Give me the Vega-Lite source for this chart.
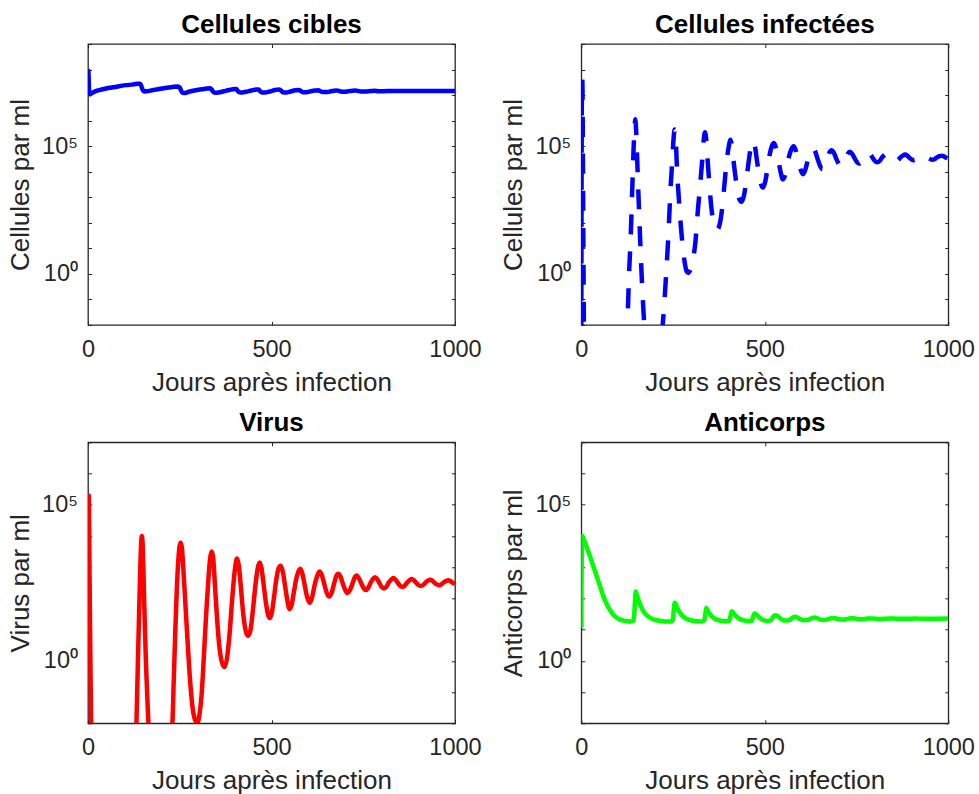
{
  "$schema": "https://vega.github.io/schema/vega-lite/v6.json",
  "padding": {"left": 6, "top": 11, "right": 0, "bottom": 0},
  "config": {
    "font": "Liberation Sans",
    "view": {"stroke": "#262626", "strokeWidth": 1.3},
    "axis": {
      "domain": false,
      "grid": false,
      "tickColor": "#262626",
      "tickSize": -3.5,
      "tickWidth": 1,
      "labelFont": "Liberation Sans",
      "labelFontSize": 23.5,
      "labelColor": "#262626",
      "labelFlush": false,
      "labelOverlap": false,
      "titleFont": "Liberation Sans",
      "titleFontSize": 26,
      "titleFontWeight": "normal",
      "titleColor": "#262626"
    },
    "axisBottom": {"labelPadding": 16, "titlePadding": 8, "format": "d"},
    "axisLeft": {"labelPadding": 14, "titlePadding": 8},
    "title": {"font": "Liberation Sans", "fontSize": 26, "fontWeight": "bold", "color": "#000000", "offset": -6, "baseline": "alphabetic"}
  },
  "datasets": {
    "cibles": [
      {"t":0,"v":9.333e7},{"t":0.8,"v":8.913e7},{"t":1.6,"v":5.623e7},{"t":2.4,"v":2.239e7},{"t":3.2,"v":1.259e7},{"t":4.5,"v":1.072e7},{"t":8,"v":1.122e7},{"t":15,"v":1.288e7},{"t":25,"v":1.479e7},{"t":35,"v":1.622e7},{"t":50,"v":1.82e7},{"t":62,"v":1.95e7},{"t":75,"v":2.089e7},{"t":90,"v":2.291e7},{"t":105,"v":2.455e7},{"t":120,"v":2.57e7},{"t":135,"v":2.754e7},{"t":141,"v":2.754e7},{"t":144,"v":2.512e7},{"t":147,"v":1.905e7},{"t":150,"v":1.514e7},{"t":154,"v":1.38e7},{"t":160,"v":1.413e7},{"t":175,"v":1.549e7},{"t":190,"v":1.698e7},{"t":210,"v":1.905e7},{"t":230,"v":2.089e7},{"t":245,"v":2.188e7},{"t":250,"v":1.995e7},{"t":253,"v":1.585e7},{"t":257,"v":1.259e7},{"t":262,"v":1.202e7},{"t":275,"v":1.349e7},{"t":290,"v":1.514e7},{"t":305,"v":1.66e7},{"t":320,"v":1.778e7},{"t":333,"v":1.862e7},{"t":337,"v":1.66e7},{"t":341,"v":1.349e7},{"t":346,"v":1.23e7},{"t":355,"v":1.259e7},{"t":370,"v":1.413e7},{"t":385,"v":1.585e7},{"t":400,"v":1.738e7},{"t":404,"v":1.738e7},{"t":407,"v":1.514e7},{"t":411,"v":1.318e7},{"t":416,"v":1.259e7},{"t":430,"v":1.349e7},{"t":445,"v":1.514e7},{"t":460,"v":1.66e7},{"t":465,"v":1.66e7},{"t":469,"v":1.413e7},{"t":474,"v":1.259e7},{"t":482,"v":1.259e7},{"t":495,"v":1.38e7},{"t":510,"v":1.585e7},{"t":520,"v":1.66e7},{"t":526,"v":1.514e7},{"t":531,"v":1.288e7},{"t":540,"v":1.259e7},{"t":552,"v":1.38e7},{"t":565,"v":1.549e7},{"t":575,"v":1.585e7},{"t":580,"v":1.445e7},{"t":586,"v":1.288e7},{"t":595,"v":1.288e7},{"t":607,"v":1.413e7},{"t":620,"v":1.514e7},{"t":628,"v":1.549e7},{"t":633,"v":1.413e7},{"t":640,"v":1.318e7},{"t":650,"v":1.318e7},{"t":662,"v":1.413e7},{"t":675,"v":1.514e7},{"t":682,"v":1.496e7},{"t":688,"v":1.38e7},{"t":698,"v":1.349e7},{"t":712,"v":1.429e7},{"t":728,"v":1.496e7},{"t":735,"v":1.462e7},{"t":742,"v":1.396e7},{"t":755,"v":1.396e7},{"t":770,"v":1.445e7},{"t":782,"v":1.479e7},{"t":790,"v":1.429e7},{"t":805,"v":1.413e7},{"t":825,"v":1.445e7},{"t":845,"v":1.462e7},{"t":870,"v":1.445e7},{"t":900,"v":1.445e7},{"t":950,"v":1.445e7},{"t":1000,"v":1.445e7}
    ],
    "infectees": [
      {"t":0,"v":0.00316},{"t":0.5,"v":100},{"t":1.2,"v":1e6},{"t":2,"v":3.162e7},{"t":2.6,"v":4.169e7},{"t":3.3,"v":1.585e7},{"t":4.2,"v":1e5},{"t":5.5,"v":31.62},{"t":7,"v":0.01585},{"t":9,"v":1e-4},{"t":30,"v":1e-8},{"t":80,"v":1e-9},{"t":110,"v":1e-6},{"t":120,"v":6.31e-4},{"t":125.5,"v":0.01},{"t":130,"v":0.891},{"t":135,"v":39.81},{"t":139,"v":2512},{"t":142.5,"v":7.943e4},{"t":145,"v":5.012e5},{"t":147,"v":1.122e6},{"t":149.5,"v":3.981e5},{"t":152.5,"v":2.512e4},{"t":156,"v":1000},{"t":160.5,"v":19.95},{"t":165.5,"v":0.398},{"t":171,"v":0.01413},{"t":177,"v":0.001},{"t":195,"v":1.585e-4},{"t":212,"v":0.001},{"t":219,"v":0.00398},{"t":224,"v":0.0251},{"t":231,"v":0.891},{"t":237.5,"v":37.15},{"t":242.5,"v":1380},{"t":248.5,"v":3.981e4},{"t":252,"v":2.512e5},{"t":254.5,"v":4.467e5},{"t":257,"v":1.995e5},{"t":261.5,"v":7943},{"t":266,"v":794.3},{"t":270,"v":125.9},{"t":276,"v":12.59},{"t":281.5,"v":2.951},{"t":287,"v":1.259},{"t":292,"v":1.122},{"t":298,"v":1.585},{"t":304,"v":3.548},{"t":310.6,"v":15.85},{"t":318,"v":354.8},{"t":324,"v":3162},{"t":329.7,"v":3.162e4},{"t":334,"v":1.995e5},{"t":337,"v":3.548e5},{"t":340,"v":1.995e5},{"t":344,"v":3.162e4},{"t":348,"v":5012},{"t":353,"v":631},{"t":359,"v":125.9},{"t":365,"v":63.1},{"t":371,"v":56.23},{"t":378,"v":100},{"t":384,"v":398.1},{"t":390,"v":3162},{"t":396,"v":2.512e4},{"t":402,"v":1e5},{"t":406,"v":1.778e5},{"t":410,"v":1.122e5},{"t":415,"v":2.512e4},{"t":421,"v":5012},{"t":428,"v":1122},{"t":436,"v":660.7},{"t":443,"v":1122},{"t":450,"v":5012},{"t":457,"v":3.162e4},{"t":463,"v":1.122e5},{"t":468,"v":1.585e5},{"t":473,"v":1e5},{"t":479,"v":2.512e4},{"t":485,"v":7079},{"t":490,"v":3162},{"t":495,"v":2399},{"t":501,"v":3981},{"t":507,"v":1.259e4},{"t":513,"v":4.467e4},{"t":519,"v":1e5},{"t":525,"v":1.318e5},{"t":531,"v":7.943e4},{"t":537,"v":2.818e4},{"t":543,"v":1e4},{"t":549,"v":5012},{"t":555,"v":7079},{"t":561,"v":1.778e4},{"t":567,"v":4.467e4},{"t":573,"v":7.943e4},{"t":578.5,"v":1e5},{"t":584,"v":7.079e4},{"t":590,"v":3.162e4},{"t":597,"v":1.259e4},{"t":604,"v":7943},{"t":611,"v":1.259e4},{"t":617,"v":2.818e4},{"t":624,"v":5.623e4},{"t":631,"v":7.943e4},{"t":637,"v":6.31e4},{"t":644,"v":3.162e4},{"t":650,"v":1.778e4},{"t":657,"v":1.259e4},{"t":663,"v":1.585e4},{"t":670,"v":3.162e4},{"t":676,"v":5.623e4},{"t":682,"v":6.918e4},{"t":688,"v":5.623e4},{"t":695,"v":3.162e4},{"t":701,"v":2.089e4},{"t":707,"v":1.66e4},{"t":713,"v":1.995e4},{"t":720,"v":3.162e4},{"t":726,"v":5.012e4},{"t":732,"v":6.026e4},{"t":738,"v":5.012e4},{"t":745,"v":3.311e4},{"t":751,"v":2.399e4},{"t":757,"v":2.089e4},{"t":763,"v":2.399e4},{"t":770,"v":3.548e4},{"t":776,"v":4.677e4},{"t":782,"v":5.37e4},{"t":788,"v":4.677e4},{"t":794,"v":3.467e4},{"t":800,"v":2.63e4},{"t":806,"v":2.344e4},{"t":813,"v":2.63e4},{"t":819,"v":3.548e4},{"t":826,"v":4.467e4},{"t":832,"v":5.012e4},{"t":838,"v":4.467e4},{"t":844,"v":3.548e4},{"t":850,"v":2.884e4},{"t":857,"v":2.63e4},{"t":863,"v":2.884e4},{"t":869,"v":3.548e4},{"t":876,"v":4.266e4},{"t":882,"v":4.677e4},{"t":888,"v":4.266e4},{"t":894,"v":3.548e4},{"t":900,"v":3.02e4},{"t":907,"v":2.818e4},{"t":913,"v":3.02e4},{"t":919,"v":3.548e4},{"t":926,"v":4.169e4},{"t":932,"v":4.467e4},{"t":938,"v":4.169e4},{"t":944,"v":3.548e4},{"t":950,"v":3.162e4},{"t":957,"v":2.951e4},{"t":963,"v":3.162e4},{"t":969,"v":3.631e4},{"t":976,"v":4.074e4},{"t":982,"v":4.266e4},{"t":988,"v":3.981e4},{"t":994,"v":3.548e4},{"t":1000,"v":3.236e4}
    ],
    "virus": [
      {"t":0,"v":10},{"t":0.6,"v":1585},{"t":1.3,"v":1e5},{"t":2,"v":1.995e5},{"t":2.8,"v":6.31e4},{"t":4,"v":1000},{"t":6,"v":3.981},{"t":8.5,"v":0.01},{"t":12,"v":1e-4},{"t":40,"v":1e-9},{"t":80,"v":1e-10},{"t":110,"v":1e-7},{"t":125,"v":1e-4},{"t":132,"v":0.01},{"t":136,"v":1},{"t":139,"v":25.12},{"t":142,"v":631},{"t":145,"v":6310},{"t":147,"v":1e4},{"t":149,"v":5012},{"t":151,"v":794},{"t":154,"v":31.62},{"t":158,"v":0.794},{"t":162,"v":0.0501},{"t":165,"v":0.00794},{"t":172,"v":3.16e-4},{"t":190,"v":1e-5},{"t":210,"v":6.31e-5},{"t":222,"v":0.001},{"t":230,"v":0.01},{"t":234,"v":0.316},{"t":238,"v":10},{"t":242,"v":199.5},{"t":246,"v":1585},{"t":250,"v":5012},{"t":253,"v":6026},{"t":256,"v":3981},{"t":260,"v":794},{"t":265,"v":79.4},{"t":271,"v":5.01},{"t":278,"v":0.251},{"t":285,"v":0.0316},{"t":292,"v":0.0126},{"t":298,"v":0.01047},{"t":304,"v":0.01995},{"t":310,"v":0.1},{"t":316,"v":1.585},{"t":322,"v":31.62},{"t":328,"v":398.1},{"t":333,"v":1995},{"t":337,"v":3162},{"t":341,"v":1995},{"t":346,"v":251.2},{"t":352,"v":19.95},{"t":358,"v":2.818},{"t":365,"v":0.891},{"t":372,"v":0.631},{"t":379,"v":1.259},{"t":386,"v":7.943},{"t":393,"v":100},{"t":400,"v":794},{"t":406,"v":1905},{"t":411,"v":1122},{"t":417,"v":199.5},{"t":423,"v":31.62},{"t":429,"v":10},{"t":436,"v":6.31},{"t":443,"v":10},{"t":450,"v":50.12},{"t":457,"v":316.2},{"t":463,"v":1000},{"t":468,"v":1413},{"t":473,"v":891.3},{"t":479,"v":251.2},{"t":485,"v":70.79},{"t":490,"v":31.62},{"t":495,"v":23.44},{"t":501,"v":35.48},{"t":507,"v":112.2},{"t":513,"v":398.1},{"t":519,"v":891.3},{"t":525,"v":1122},{"t":531,"v":707.9},{"t":537,"v":251.2},{"t":543,"v":89.13},{"t":549,"v":45.71},{"t":555,"v":63.1},{"t":561,"v":158.5},{"t":567,"v":398.1},{"t":573,"v":707.9},{"t":578.5,"v":891.3},{"t":584,"v":631},{"t":590,"v":281.8},{"t":597,"v":112.2},{"t":604,"v":72.44},{"t":611,"v":112.2},{"t":617,"v":251.2},{"t":624,"v":501.2},{"t":631,"v":724.4},{"t":637,"v":562.3},{"t":644,"v":281.8},{"t":650,"v":158.5},{"t":657,"v":114.8},{"t":663,"v":141.3},{"t":670,"v":281.8},{"t":676,"v":501.2},{"t":682,"v":616.6},{"t":688,"v":501.2},{"t":695,"v":281.8},{"t":701,"v":186.2},{"t":707,"v":147.9},{"t":713,"v":177.8},{"t":720,"v":281.8},{"t":726,"v":446.7},{"t":732,"v":537},{"t":738,"v":446.7},{"t":745,"v":295.1},{"t":751,"v":213.8},{"t":757,"v":186.2},{"t":763,"v":213.8},{"t":770,"v":316.2},{"t":776,"v":416.9},{"t":782,"v":478.6},{"t":788,"v":416.9},{"t":794,"v":309},{"t":800,"v":234.4},{"t":806,"v":208.9},{"t":813,"v":234.4},{"t":819,"v":316.2},{"t":826,"v":398.1},{"t":832,"v":446.7},{"t":838,"v":398.1},{"t":844,"v":316.2},{"t":850,"v":257},{"t":857,"v":234.4},{"t":863,"v":257},{"t":869,"v":316.2},{"t":876,"v":380.2},{"t":882,"v":416.9},{"t":888,"v":380.2},{"t":894,"v":316.2},{"t":900,"v":269.2},{"t":907,"v":251.2},{"t":913,"v":269.2},{"t":919,"v":316.2},{"t":926,"v":371.5},{"t":932,"v":398.1},{"t":938,"v":371.5},{"t":944,"v":316.2},{"t":950,"v":281.8},{"t":957,"v":263},{"t":963,"v":281.8},{"t":969,"v":323.6},{"t":976,"v":363.1},{"t":982,"v":380.2},{"t":988,"v":354.8},{"t":994,"v":316.2},{"t":1000,"v":288.4}
    ],
    "anticorps": [
      {"t":0,"v":11.22},{"t":0.6,"v":398.1},{"t":1.5,"v":5012},{"t":2.8,"v":1e4},{"t":8,"v":7079},{"t":16,"v":3981},{"t":24.6,"v":2089},{"t":33,"v":1047},{"t":42.8,"v":478.6},{"t":52,"v":229.1},{"t":61,"v":109.6},{"t":70,"v":63.1},{"t":79,"v":40.74},{"t":88,"v":29.51},{"t":97,"v":23.99},{"t":106,"v":20.89},{"t":115,"v":19.5},{"t":125,"v":18.62},{"t":135,"v":18.2},{"t":141,"v":18.62},{"t":144,"v":28.18},{"t":146.5,"v":89.13},{"t":148.5,"v":166},{"t":151,"v":131.8},{"t":156,"v":85.11},{"t":162,"v":56.23},{"t":170,"v":37.15},{"t":180,"v":27.54},{"t":192,"v":22.39},{"t":205,"v":19.95},{"t":220,"v":18.62},{"t":235,"v":18.2},{"t":246,"v":18.2},{"t":249,"v":20.89},{"t":252,"v":41.69},{"t":254.5,"v":72.44},{"t":257,"v":66.07},{"t":262,"v":47.86},{"t":268,"v":36.31},{"t":276,"v":27.54},{"t":286,"v":22.39},{"t":298,"v":19.95},{"t":315,"v":18.62},{"t":330,"v":18.2},{"t":335,"v":19.95},{"t":338,"v":31.62},{"t":340.5,"v":48.98},{"t":343,"v":44.67},{"t":348,"v":34.67},{"t":355,"v":26.92},{"t":364,"v":22.39},{"t":375,"v":19.95},{"t":390,"v":18.62},{"t":402,"v":18.62},{"t":405,"v":22.39},{"t":408,"v":33.11},{"t":410.5,"v":38.9},{"t":414,"v":34.67},{"t":420,"v":28.18},{"t":428,"v":23.44},{"t":438,"v":20.42},{"t":452,"v":19.05},{"t":464,"v":19.05},{"t":467,"v":23.99},{"t":471,"v":31.62},{"t":474,"v":33.11},{"t":479,"v":28.84},{"t":486,"v":23.99},{"t":494,"v":20.89},{"t":506,"v":19.05},{"t":516,"v":19.95},{"t":521,"v":23.99},{"t":526,"v":28.18},{"t":530,"v":28.84},{"t":536,"v":26.3},{"t":543,"v":22.39},{"t":550,"v":19.95},{"t":558,"v":19.5},{"t":568,"v":20.42},{"t":574,"v":23.44},{"t":580,"v":25.7},{"t":583,"v":26.0},{"t":590,"v":23.99},{"t":598,"v":21.38},{"t":609,"v":19.95},{"t":620,"v":20.89},{"t":627,"v":22.91},{"t":635,"v":24.27},{"t":642,"v":23.44},{"t":650,"v":21.38},{"t":660,"v":20.42},{"t":671,"v":21.38},{"t":679,"v":22.91},{"t":687,"v":23.44},{"t":695,"v":22.65},{"t":703,"v":21.38},{"t":712,"v":20.89},{"t":722,"v":21.63},{"t":730,"v":22.65},{"t":738,"v":23.17},{"t":746,"v":22.65},{"t":754,"v":21.88},{"t":762,"v":21.38},{"t":772,"v":21.88},{"t":780,"v":22.65},{"t":790,"v":22.91},{"t":800,"v":22.39},{"t":812,"v":21.88},{"t":825,"v":22.13},{"t":838,"v":22.65},{"t":850,"v":22.65},{"t":870,"v":22.13},{"t":890,"v":22.39},{"t":910,"v":22.65},{"t":930,"v":22.39},{"t":960,"v":22.39},{"t":1000,"v":22.65}
    ]
  },
  "bounds": "flush",
  "columns": 2,
  "spacing": {"row": 117.3, "column": 126.3},
  "concat": [
    {
      "width": 367, "height": 281,
      "title": "Cellules cibles",
      "data": {"name": "cibles"},
      "layer": [
        {
          "mark": {"type": "line", "color": "#0000ff", "strokeWidth": 4.5, "clip": true, "interpolate": "monotone"},
          "encoding": {
            "x": {"field": "t", "type": "quantitative", "scale": {"domain": [0, 1000], "nice": false}, "axis": {"values": [0, 500, 1000], "title": "Jours après infection"}},
            "y": {"field": "v", "type": "quantitative", "scale": {"type": "log", "domain": [0.01, 1e9], "nice": false}, "axis": {"values": [0.01, 0.1, 1, 10, 100, 1000, 10000, 100000, 1e6, 1e7, 1e8, 1e9], "labelExpr": "datum.value == 1 ? '10⁰' : (datum.value == 100000 ? '10⁵' : '')", "title": "Cellules par ml"}}
          }
        },
        {
          "mark": {"type": "line", "opacity": 0, "clip": true},
          "encoding": {
            "x": {"field": "t", "type": "quantitative", "axis": {"orient": "top", "values": [0, 500, 1000], "labels": false, "title": null}},
            "y": {"field": "v", "type": "quantitative", "axis": {"orient": "right", "values": [0.01, 0.1, 1, 10, 100, 1000, 10000, 100000, 1e6, 1e7, 1e8, 1e9], "labels": false, "title": null}}
          }
        }
      ],
      "resolve": {"axis": {"x": "independent", "y": "independent"}}
    },
    {
      "width": 367, "height": 281,
      "title": "Cellules infectées",
      "data": {"name": "infectees"},
      "layer": [
        {
          "mark": {"type": "line", "color": "#0000ff", "strokeWidth": 4.5, "strokeDash": [20, 17], "clip": true, "interpolate": "monotone"},
          "encoding": {
            "x": {"field": "t", "type": "quantitative", "scale": {"domain": [0, 1000], "nice": false}, "axis": {"values": [0, 500, 1000], "title": "Jours après infection"}},
            "y": {"field": "v", "type": "quantitative", "scale": {"type": "log", "domain": [0.01, 1e9], "nice": false}, "axis": {"values": [0.01, 0.1, 1, 10, 100, 1000, 10000, 100000, 1e6, 1e7, 1e8, 1e9], "labelExpr": "datum.value == 1 ? '10⁰' : (datum.value == 100000 ? '10⁵' : '')", "title": "Cellules par ml"}}
          }
        },
        {
          "mark": {"type": "line", "opacity": 0, "clip": true},
          "encoding": {
            "x": {"field": "t", "type": "quantitative", "axis": {"orient": "top", "values": [0, 500, 1000], "labels": false, "title": null}},
            "y": {"field": "v", "type": "quantitative", "axis": {"orient": "right", "values": [0.01, 0.1, 1, 10, 100, 1000, 10000, 100000, 1e6, 1e7, 1e8, 1e9], "labels": false, "title": null}}
          }
        }
      ],
      "resolve": {"axis": {"x": "independent", "y": "independent"}}
    },
    {
      "width": 367, "height": 281,
      "title": "Virus",
      "data": {"name": "virus"},
      "layer": [
        {
          "mark": {"type": "line", "color": "#ff0000", "strokeWidth": 4.5, "clip": true, "interpolate": "monotone"},
          "encoding": {
            "x": {"field": "t", "type": "quantitative", "scale": {"domain": [0, 1000], "nice": false}, "axis": {"values": [0, 500, 1000], "title": "Jours après infection"}},
            "y": {"field": "v", "type": "quantitative", "scale": {"type": "log", "domain": [0.01, 1e7], "nice": false}, "axis": {"values": [0.01, 0.1, 1, 10, 100, 1000, 10000, 100000, 1e6, 1e7], "labelExpr": "datum.value == 1 ? '10⁰' : (datum.value == 100000 ? '10⁵' : '')", "title": "Virus par ml"}}
          }
        },
        {
          "mark": {"type": "line", "opacity": 0, "clip": true},
          "encoding": {
            "x": {"field": "t", "type": "quantitative", "axis": {"orient": "top", "values": [0, 500, 1000], "labels": false, "title": null}},
            "y": {"field": "v", "type": "quantitative", "axis": {"orient": "right", "values": [0.01, 0.1, 1, 10, 100, 1000, 10000, 100000, 1e6, 1e7], "labels": false, "title": null}}
          }
        }
      ],
      "resolve": {"axis": {"x": "independent", "y": "independent"}}
    },
    {
      "width": 367, "height": 281,
      "title": "Anticorps",
      "data": {"name": "anticorps"},
      "layer": [
        {
          "mark": {"type": "line", "color": "#00ff00", "strokeWidth": 4.5, "clip": true, "interpolate": "monotone"},
          "encoding": {
            "x": {"field": "t", "type": "quantitative", "scale": {"domain": [0, 1000], "nice": false}, "axis": {"values": [0, 500, 1000], "title": "Jours après infection"}},
            "y": {"field": "v", "type": "quantitative", "scale": {"type": "log", "domain": [0.01, 1e7], "nice": false}, "axis": {"values": [0.01, 0.1, 1, 10, 100, 1000, 10000, 100000, 1e6, 1e7], "labelExpr": "datum.value == 1 ? '10⁰' : (datum.value == 100000 ? '10⁵' : '')", "title": "Anticorps par ml"}}
          }
        },
        {
          "mark": {"type": "line", "opacity": 0, "clip": true},
          "encoding": {
            "x": {"field": "t", "type": "quantitative", "axis": {"orient": "top", "values": [0, 500, 1000], "labels": false, "title": null}},
            "y": {"field": "v", "type": "quantitative", "axis": {"orient": "right", "values": [0.01, 0.1, 1, 10, 100, 1000, 10000, 100000, 1e6, 1e7], "labels": false, "title": null}}
          }
        }
      ],
      "resolve": {"axis": {"x": "independent", "y": "independent"}}
    }
  ]
}
